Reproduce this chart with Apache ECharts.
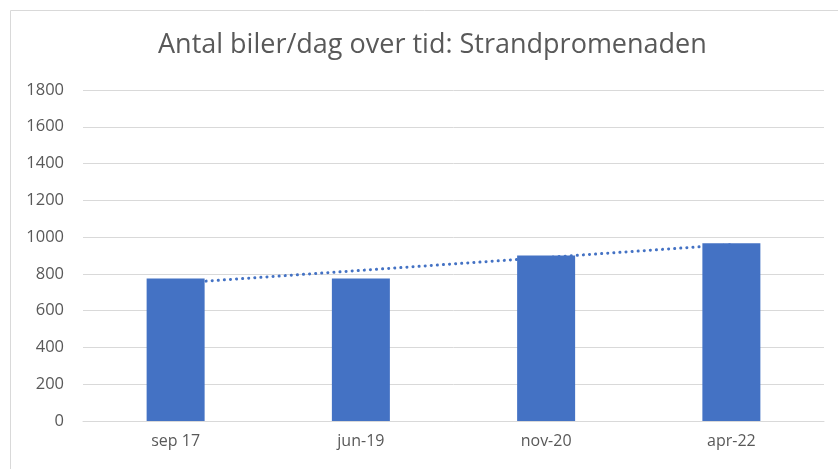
<!DOCTYPE html>
<html>
<head>
<meta charset="utf-8">
<script src="https://cdn.jsdelivr.net/npm/echarts@6/dist/echarts.min.js"></script>
<style>
    html, body { margin: 0; padding: 0; background: #fff; }
    #main { width: 838px; height: 469px; }
</style>
</head>
<body>
<div id="main"></div>
<script>
// data
var categories = ['sep 17', 'jun-19', 'nov-20', 'apr-22'];
var carsPerDay = [775, 775, 900, 967];
var yTicks = [0, 200, 400, 600, 800, 1000, 1200, 1400, 1600, 1800];

// linear trendline (Excel style) fitted on the bar values
function linearTrend(values) {
    var n = values.length, sx = 0, sy = 0, sxy = 0, sxx = 0;
    for (var i = 0; i < n; i++) {
        var x = i + 1;
        sx += x; sy += values[i]; sxy += x * values[i]; sxx += x * x;
    }
    var slope = (n * sxy - sx * sy) / (n * sxx - sx * sx);
    var icpt = (sy - slope * sx) / n;
    return values.map(function (v, i) { return icpt + slope * (i + 1); });
}

var myChart = echarts.init(document.getElementById('main'));
var grey = '#595959';
var font = '"Open Sans", Lato, sans-serif';

myChart.setOption({
    animation: false,
    title: {
        text: 'Antal biler/dag over tid: Strandpromenaden',
        left: 153,
        top: 27,
        textStyle: { fontFamily: font, fontSize: 27, fontWeight: 'normal', color: grey }
    },
    graphic: [{
        type: 'rect',
        shape: { x: 10.5, y: 10.5, width: 840, height: 470 },
        style: { fill: 'none', stroke: '#d9d9d9', lineWidth: 1 },
        silent: true
    }],
    grid: { left: 83, right: 14, top: 90, bottom: 48 },
    xAxis: {
        type: 'category',
        data: categories,
        axisLine: { lineStyle: { color: '#d9d9d9', width: 1 } },
        axisTick: { show: false },
        axisLabel: { color: grey, fontFamily: font, fontSize: 16, margin: 12 }
    },
    yAxis: {
        type: 'value',
        min: yTicks[0],
        max: yTicks[yTicks.length - 1],
        interval: 200,
        axisLine: { show: false },
        axisTick: { show: false },
        axisLabel: {
            color: grey, fontFamily: font, fontSize: 16.5, margin: 19,
            formatter: function (v) { return String(v); }
        },
        splitLine: { lineStyle: { color: '#d9d9d9', width: 1 } }
    },
    series: [
        {
            type: 'line',
            data: linearTrend(carsPerDay),
            symbol: 'none',
            z: 1,
            lineStyle: { color: '#4472c4', width: 3, type: [0.1, 6], cap: 'round' }
        },
        {
            type: 'bar',
            data: carsPerDay,
            barWidth: 58,
            z: 3,
            itemStyle: { color: '#4472c4' }
        }
    ]
});
</script>
</body>
</html>
